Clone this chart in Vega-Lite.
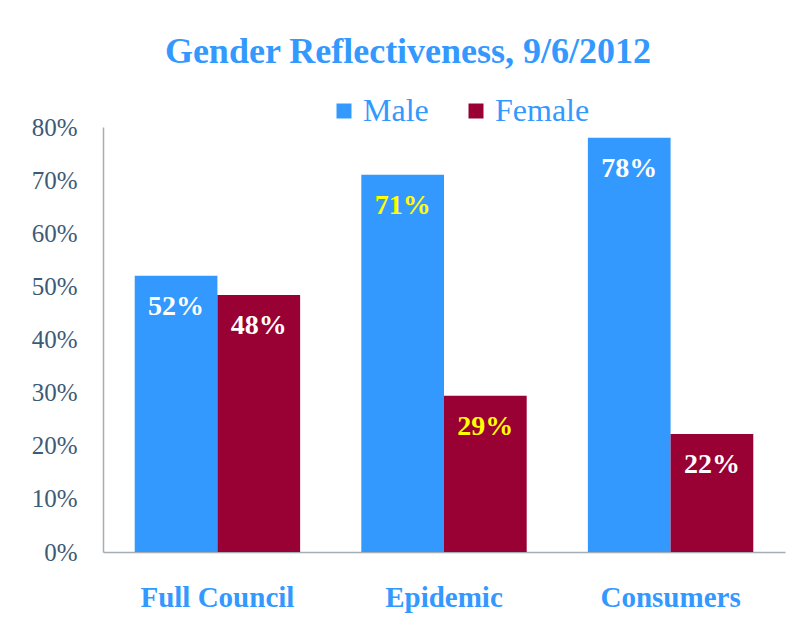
{
  "$schema": "https://vega.github.io/schema/vega-lite/v6.json",
  "width": 682,
  "height": 425,
  "autosize": {"type": "none"},
  "padding": {"left": 103, "top": 127, "right": 7, "bottom": 81},
  "background": "white",
  "title": {
    "text": "Gender Reflectiveness, 9/6/2012",
    "font": "Liberation Serif",
    "fontSize": 36,
    "fontWeight": "bold",
    "color": "#3399FF",
    "anchor": "middle",
    "frame": "group",
    "dx": -36,
    "offset": 24
  },
  "data": {
    "values": [
      {"group": "Full Council", "gender": "Male", "value": 0.52},
      {"group": "Full Council", "gender": "Female", "value": 0.484},
      {"group": "Epidemic", "gender": "Male", "value": 0.71},
      {"group": "Epidemic", "gender": "Female", "value": 0.294},
      {"group": "Consumers", "gender": "Male", "value": 0.78},
      {"group": "Consumers", "gender": "Female", "value": 0.222}
    ]
  },
  "encoding": {
    "x": {
      "field": "group",
      "type": "nominal",
      "sort": ["Full Council", "Epidemic", "Consumers"],
      "scale": {"paddingInner": 0.27, "paddingOuter": 0.14},
      "axis": {
        "title": null,
        "labelAngle": 0,
        "labelFont": "Liberation Serif",
        "labelFontSize": 29,
        "labelFontWeight": "bold",
        "labelColor": "#3399FF",
        "labelPadding": 31,
        "ticks": false,
        "domainColor": "#a6adb4",
        "domainWidth": 1.5
      }
    },
    "xOffset": {
      "field": "gender",
      "type": "nominal",
      "sort": ["Male", "Female"],
      "scale": {"paddingInner": 0, "paddingOuter": 0}
    },
    "y": {
      "field": "value",
      "type": "quantitative",
      "scale": {"domain": [0, 0.8], "nice": false},
      "axis": {
        "title": null,
        "format": ".0%",
        "values": [0, 0.1, 0.2, 0.3, 0.4, 0.5, 0.6, 0.7, 0.8],
        "grid": false,
        "ticks": false,
        "labelPadding": 26,
        "labelFont": "Liberation Serif",
        "labelFontSize": 25,
        "labelColor": "#3d5a78",
        "domainColor": "#a6adb4",
        "domainWidth": 1.5
      }
    }
  },
  "layer": [
    {
      "mark": {"type": "bar"},
      "encoding": {
        "color": {
          "field": "gender",
          "type": "nominal",
          "scale": {"domain": ["Male", "Female"], "range": ["#3399FF", "#990033"]},
          "legend": {
            "title": null,
            "orient": "none",
            "legendX": 225,
            "legendY": -32,
            "direction": "horizontal",
            "symbolType": "square",
            "symbolSize": 225,
            "symbolStrokeWidth": 0,
            "labelFont": "Liberation Serif",
            "labelFontSize": 32,
            "labelColor": "#3399FF",
            "labelOffset": 3,
            "columnPadding": 31
          }
        }
      }
    },
    {
      "mark": {
        "type": "text",
        "font": "Liberation Serif",
        "fontSize": 28,
        "fontWeight": "bold",
        "baseline": "middle",
        "dy": 31
      },
      "encoding": {
        "text": {"field": "value", "type": "quantitative", "format": ".0%"},
        "color": {
          "condition": {"test": "datum.group === 'Epidemic'", "value": "#FFFF00"},
          "value": "white"
        }
      }
    }
  ],
  "config": {"view": {"stroke": null}}
}
